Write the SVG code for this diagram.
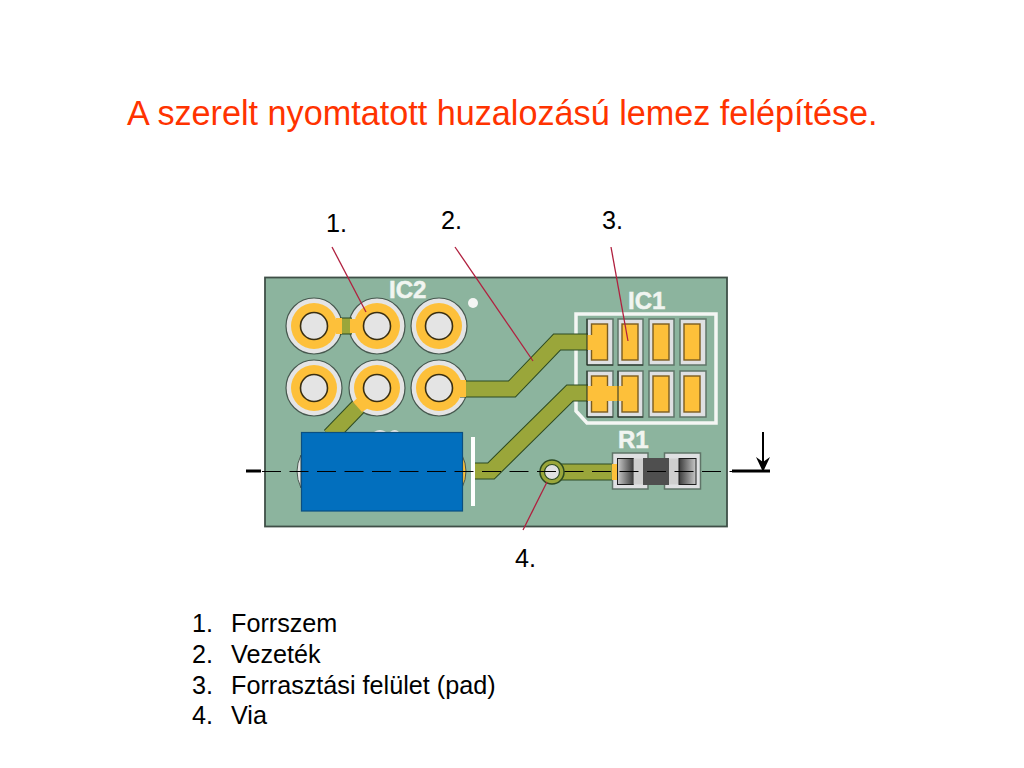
<svg xmlns="http://www.w3.org/2000/svg" width="1024" height="768" viewBox="0 0 1024 768">
<style>
text{font-family:"Liberation Sans",Arial,sans-serif}
.title{font-size:34.200px;fill:#ff3300}
.t{font-size:25.200px;fill:#000}
.silk{font-size:24px;font-weight:bold;fill:#f1f5f1;stroke:#f1f5f1;stroke-width:.5}
.ring{fill:#e4e4e4;stroke:#47584f;stroke-width:1.2}
.gold{fill:#fdc03a;stroke:none}
.hole{fill:#e4e4e4;stroke:#3a2f12;stroke-width:1.6}
.trE{fill:none;stroke:#2d4a22;stroke-width:17;stroke-linejoin:miter}
.tr{fill:none;stroke:#9aa63a;stroke-width:15;stroke-linejoin:miter}
.pg{fill:#dfe0e2;stroke:#5f7468;stroke-width:1.5}
.pd{fill:#fdc03a;stroke:#7a5c20;stroke-width:1.4}
.lead{stroke:#b0203f;stroke-width:1.3;fill:none}
</style>
<defs>
<linearGradient id="capL" x1="0" x2="1" y1="0" y2="0"><stop offset="0" stop-color="#c9c9c9"/><stop offset="1" stop-color="#3c3c3c"/></linearGradient>
<linearGradient id="capR" x1="0" x2="1" y1="0" y2="0"><stop offset="0" stop-color="#3c3c3c"/><stop offset="1" stop-color="#c9c9c9"/></linearGradient>
<g id="via"><circle r="28" class="ring"/><circle r="23" class="gold"/><circle r="13.5" class="hole"/></g>
</defs>
<text class="title" x="127" y="125" xml:space="preserve">A szerelt nyomtatott huzalozású lemez felépítése.</text>

<g id="board">
<rect x="265" y="277.500" width="462" height="249" fill="#8cb49e" stroke="#3f4f47" stroke-width="1.800"/>
<text class="silk" x="389" y="298">IC2</text>
<circle cx="473" cy="303" r="5" fill="#f4f6f4"/>
<text class="silk" x="628" y="309">IC1</text>
<path d="M576 314H716V423H587L576 411Z" fill="none" stroke="#f4f6f4" stroke-width="3.500"/>
<text class="silk" x="618" y="448">R1</text>
</g>

<g id="ic2-pads">
<use href="#via" x="314" y="326"/><use href="#via" x="377" y="326"/><use href="#via" x="439" y="326"/>
<use href="#via" x="314" y="388"/><use href="#via" x="377" y="388"/><use href="#via" x="439" y="388"/>
</g>

<g id="ic1-pads">
<rect class="pg" x="587" y="319" width="26" height="46"/><rect class="pg" x="618" y="319" width="25" height="46"/><rect class="pg" x="649" y="319" width="25" height="46"/><rect class="pg" x="680" y="319" width="26" height="46"/>
<rect class="pg" x="587" y="371" width="26" height="46"/><rect class="pg" x="618" y="371" width="25" height="46"/><rect class="pg" x="649" y="371" width="25" height="46"/><rect class="pg" x="680" y="371" width="26" height="46"/>
</g>

<g id="traces">
<path class="trE" d="M588 342H557L512 389H460"/>
<path class="trE" d="M588 393H570L491 471H475"/>
<path class="trE" d="M358 407L330 436"/>
<path class="trE" d="M340 326H352"/>
<path class="trE" d="M552 472H617"/>
<path class="tr" d="M588 342H557L512 389H460"/>
<path class="tr" d="M588 393H570L491 471H475"/>
<path class="tr" d="M358 407L330 436"/>
<path class="tr" d="M340 326H352"/>
<path class="tr" d="M552 472H617"/>
</g>

<g id="pad-gold">
<rect class="pd" x="591.500" y="324" width="16" height="36"/><rect class="pd" x="622" y="324" width="16" height="36"/><rect class="pd" x="653" y="324" width="16" height="36"/><rect class="pd" x="684" y="324" width="16" height="36"/>
<rect class="pd" x="591.500" y="376" width="16" height="36"/><rect class="pd" x="622" y="376" width="16" height="36"/><rect class="pd" x="653" y="376" width="16" height="36"/><rect class="pd" x="684" y="376" width="16" height="36"/>
<rect class="gold" x="587" y="335" width="6" height="15"/>
<rect class="gold" x="587" y="386" width="36" height="15"/>
<path d="M587 319V365H613M587 371V417H613M618 365H643M618 417H643M618 371V417" fill="none" stroke="#1e2a20" stroke-width="1"/>
<rect class="gold" x="336" y="318" width="6" height="16"/>
<path class="gold" d="M350 319H358V333H350Z"/>
<rect class="gold" x="460" y="380" width="6" height="17"/>
<path class="gold" d="M353 402L362 412L373 405L362 394Z"/>
</g>

<g id="capacitor">
<path d="M301 455Q293 471 301 488Z" fill="#e6e6e6" stroke="#47584f"/>
<path d="M462 455Q470 471 462 488Z" fill="#fdc03a" stroke="#47584f"/>
<path d="M374 432Q380 428 386 432H390Q395 428 399 432Z" fill="#e6e6e6"/>
<rect x="301.500" y="432.500" width="161" height="78.500" fill="#026fbe" stroke="#0b4f80" stroke-width="1.200"/>
<rect x="471" y="437" width="4" height="69" fill="#fff"/>
</g>

<g id="via-4">
<circle cx="552" cy="472" r="12" fill="#9aa63a" stroke="#2d4a22" stroke-width="1.500"/>
<circle cx="552" cy="472" r="7.500" fill="#dfe0e2" stroke="#2d4a22" stroke-width="1.200"/>
</g>

<g id="r1">
<rect class="pg" x="612.500" y="453" width="35.500" height="36"/>
<rect class="pg" x="664.500" y="453" width="36" height="36"/>
<rect class="gold" x="612" y="464" width="6" height="16"/>
<rect x="643" y="458" width="26" height="27" fill="#4f4f4f"/>
<rect x="617.500" y="458.500" width="16" height="26" fill="url(#capL)" stroke="#1e1e1e"/>
<rect x="633.500" y="458.500" width="9.500" height="26" fill="#cfcfcf" stroke="none"/>
<rect x="669" y="458.500" width="10" height="26" fill="#cfcfcf"/>
<rect x="679" y="458.500" width="17" height="26" fill="url(#capR)" stroke="#1e1e1e"/>
</g>

<g id="connectors">
<path class="lead" d="M332 247L366 312"/>
<path class="lead" d="M455 247L533 361"/>
<path class="lead" d="M611 247L628 341"/>
<path class="lead" d="M547 482L523 530"/>
<path d="M262 471.500H732" fill="none" stroke="#000" stroke-width="1.100" stroke-dasharray="19 8.500"/>
<path d="M246 471H261M732 471H770" fill="none" stroke="#000" stroke-width="3"/>
<path d="M763 432V466" fill="none" stroke="#000" stroke-width="2"/>
<path d="M756 457L763 472L770 457L763 462Z" fill="#000"/>
</g>

<g id="labels">
<text class="t" x="326" y="232">1.</text>
<text class="t" x="441" y="229">2.</text>
<text class="t" x="602" y="229">3.</text>
<text class="t" x="515" y="567">4.</text>
<text class="t" x="192" y="632">1.</text><text class="t" x="231" y="632">Forrszem</text>
<text class="t" x="192" y="663">2.</text><text class="t" x="231" y="663">Vezeték</text>
<text class="t" x="192" y="694">3.</text><text class="t" x="231" y="694">Forrasztási felület (pad)</text>
<text class="t" x="192" y="724">4.</text><text class="t" x="231" y="724">Via</text>
</g>
</svg>
